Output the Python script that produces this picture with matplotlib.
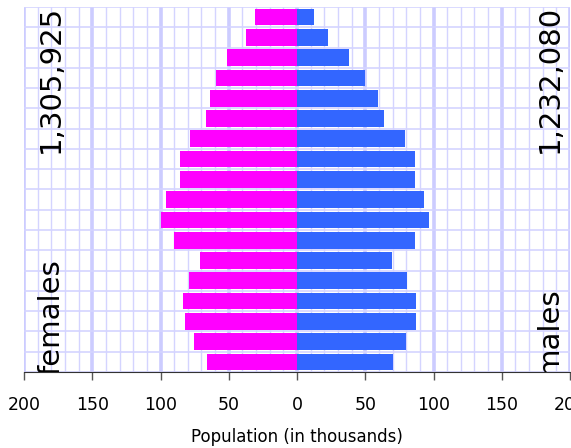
import numpy as np
import matplotlib.pyplot as plt

# age groups, youngest at the bottom
age_groups = ["0-4", "5-9", "10-14", "15-19", "20-24", "25-29", "30-34", "35-39",
              "40-44", "45-49", "50-54", "55-59", "60-64", "65-69", "70-74",
              "75-79", "80-84", "85+"]
females = [66.0, 75.5, 82.0, 83.5, 79.0, 71.0, 90.0, 99.6, 96.0, 85.7, 85.7,
           78.4, 66.7, 63.7, 59.3, 51.3, 37.4, 31.0]
males = [70.3, 79.9, 87.2, 87.2, 80.6, 69.6, 86.4, 96.7, 93.0, 86.4, 86.4,
         79.1, 63.7, 59.3, 49.8, 38.1, 22.7, 12.5]
female_total = "1,305,925"
male_total = "1,232,080"
ticks = [-200, -150, -100, -50, 0, 50, 100, 150, 200]

fig = plt.figure(figsize=(5.71, 4.48), dpi=100)
ax = fig.add_axes([24 / 571, 76 / 448, 546 / 571, 365 / 448])

y = np.arange(len(age_groups))
ax.set_xlim(-200, 200)
ax.set_ylim(-0.5, len(age_groups) - 0.5)

# grid
for v in range(-200, 201, 10):
    if v % 50 == 0:
        ax.axvline(v, color="#ccccff", lw=2.6, zorder=0)
    else:
        ax.axvline(v, color="#d4d4ff", lw=1.0, zorder=0)
for h in np.arange(-0.5, len(age_groups), 1.0):
    ax.axhline(h, color="#d4d4ff", lw=1.2, zorder=0)

ax.barh(y, [-f for f in females], height=0.82, color="#ff00ff", zorder=2)
ax.barh(y, males, height=0.82, color="#3366ff", zorder=2)

for s in ["left", "right", "top"]:
    ax.spines[s].set_visible(False)
ax.spines["bottom"].set_color("#333333")
ax.set_yticks([])
ax.set_xticks(ticks)
ax.set_xticklabels([str(abs(t)) for t in ticks])
ax.tick_params(axis="x", length=6, width=1, color="#555555", labelsize=12.5, pad=11)
ax.set_xlabel("Population (in thousands)", fontsize=12, labelpad=10)

top = len(age_groups) - 0.5
bot = -0.5
kw = dict(rotation=90, fontsize=21, color="black", clip_on=True, zorder=3)
ax.text(-180, top + 0.1, female_total, ha="center", va="top", **kw)
ax.text(185, top + 0.1, male_total, ha="center", va="top", **kw)
ax.text(-180, bot - 0.15, "females", ha="center", va="bottom", **kw)
ax.text(185, bot - 0.15, "males", ha="center", va="bottom", **kw)

fig.savefig("out.png", dpi=100)
